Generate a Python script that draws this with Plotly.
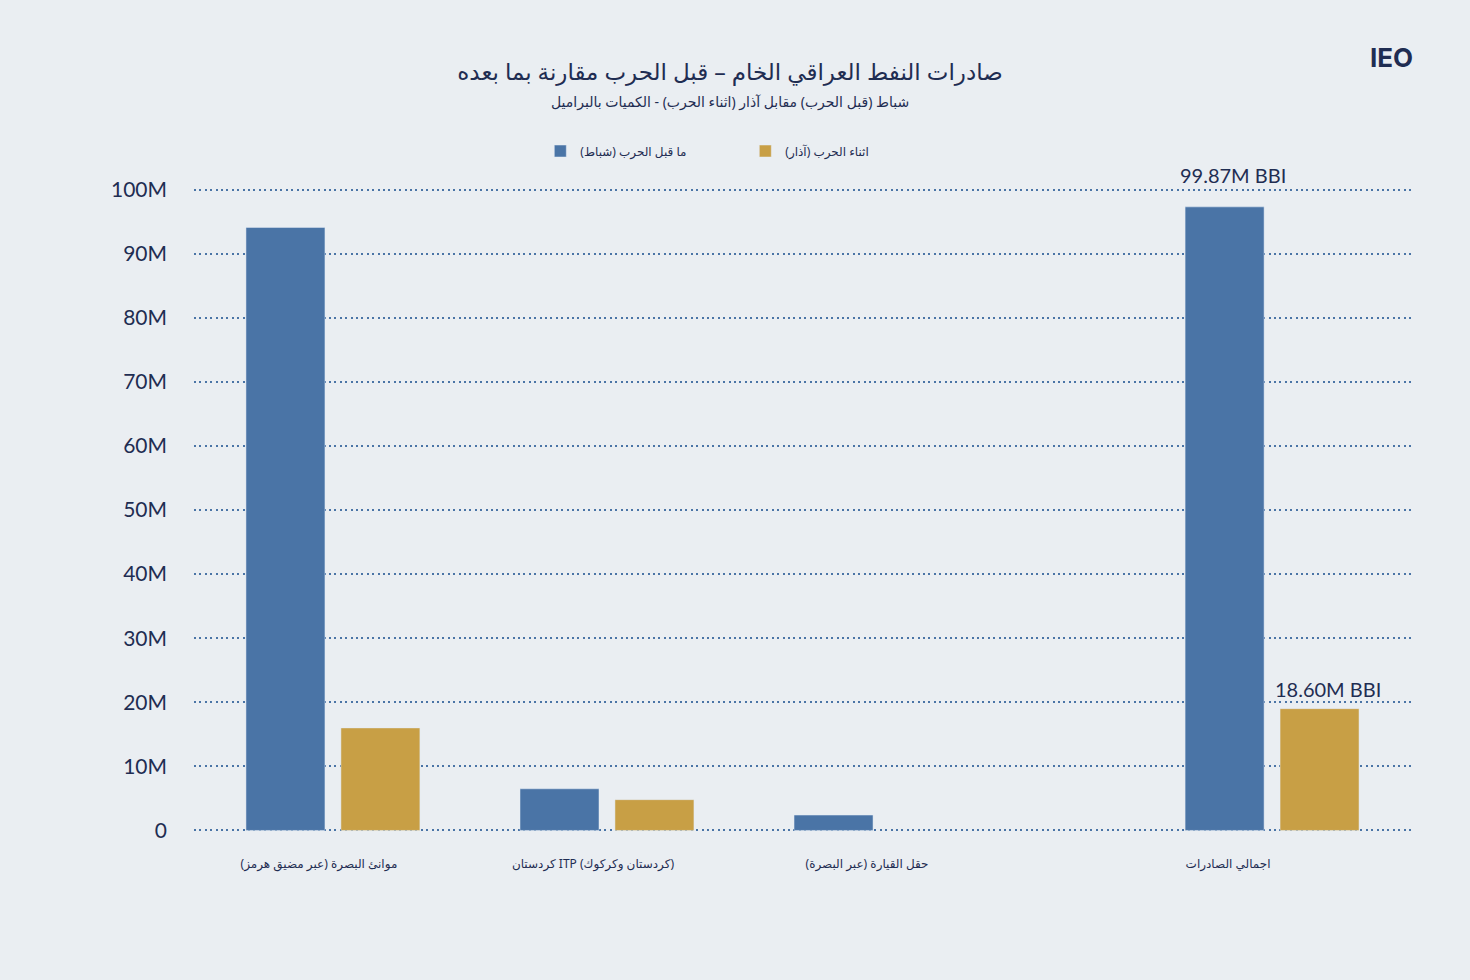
import plotly.graph_objects as go

# Iraqi crude exports, barrels
categories = ["موانئ البصرة (عبر مضيق هرمز)", "كردستان ITP (كردستان وكركوك)", "حقل القيارة (عبر البصرة)"]
before_war = [94.1e6, 6.5e6, 2.4e6]
during_war = [16.0e6, 4.8e6, None]

total_category = ["اجمالي الصادرات"]
total_before = [97.3e6]
total_during = [19.0e6]
total_labels = ["99.87M BBI", "18.60M BBI"]
total_label_values = [99.87e6, 18.60e6]

series_names = ["ما قبل الحرب (شباط)", "اثناء الحرب (آذار)"]

blue = "#4a74a6"
gold = "#c89f45"
navy = "#1f2d52"
bg = "#eaeef2"
num_font = "Lato, Inter, sans-serif"
ar_font = "Noto Sans, DejaVu Sans, sans-serif"

fig = go.Figure()
fig.add_trace(go.Bar(x=categories, y=before_war, name=series_names[0], marker_color=blue,
                     legendgroup="a", xaxis="x", yaxis="y"))
fig.add_trace(go.Bar(x=categories, y=during_war, name=series_names[1], marker_color=gold,
                     legendgroup="b", xaxis="x", yaxis="y"))
fig.add_trace(go.Bar(x=total_category, y=total_before, name=series_names[0], marker_color=blue,
                     legendgroup="a", showlegend=False, xaxis="x2", yaxis="y"))
fig.add_trace(go.Bar(x=total_category, y=total_during, name=series_names[1], marker_color=gold,
                     legendgroup="b", showlegend=False, xaxis="x2", yaxis="y"))

# value labels over the total group
for lbl, val, xs, ys in zip(total_labels, total_label_values, [-39, 56], [1, 8]):
    fig.add_annotation(x=total_category[0], y=val, xref="x2", yref="y", text=lbl,
                       showarrow=False, yanchor="bottom", xshift=xs, yshift=ys,
                       font=dict(family=num_font, size=20, color=navy))

fig.add_annotation(x=0.984, y=1.2012, xref="paper", yref="paper", text="<b>IEO</b>",
                   showarrow=False, xanchor="center", yanchor="middle",
                   font=dict(family="Inter, sans-serif", size=26, color=navy))

fig.add_annotation(x=0.4404, y=1.1316, xref="paper", yref="paper", yanchor="middle",
                   text="شباط (قبل الحرب) مقابل آذار (اثناء الحرب) - الكميات بالبراميل",
                   showarrow=False, font=dict(family=ar_font, size=14, color=navy))

fig.update_layout(
    width=1470, height=980,
    paper_bgcolor=bg, plot_bgcolor=bg,
    margin=dict(l=194, r=59, t=187, b=147),
    barmode="group", bargap=0.307, bargroupgap=0.168,
    title=dict(
        text="صادرات النفط العراقي الخام – قبل الحرب مقارنة بما بعده",
        x=0.4966, xanchor="center", y=0.9265, yanchor="middle",
        font=dict(family=ar_font, size=23, color=navy),
    ),
    legend=dict(orientation="h", x=0.453, xanchor="center", y=1.0557, yanchor="middle",
                entrywidth=160, font=dict(family=ar_font, size=12, color=navy),
                bgcolor="rgba(0,0,0,0)"),
    font=dict(family=num_font, color=navy),
    xaxis=dict(type="category", range=[-0.507, 3.934], showgrid=False, zeroline=False,
               tickfont=dict(family=ar_font, size=12, color=navy), ticklabelstandoff=22,
               ticklabelshift=-14),
    xaxis2=dict(type="category", overlaying="x", side="bottom", anchor="y", range=[-3.934, 0.507],
                showgrid=False, zeroline=False,
                tickfont=dict(family=ar_font, size=12, color=navy), ticklabelstandoff=22,
                ticklabelshift=-44),
    yaxis=dict(range=[-0.4e6, 100.4e6], tickvals=[i * 10e6 for i in range(11)], tickformat="~s",
               zeroline=False, showgrid=True, gridcolor=blue, gridwidth=2, griddash="2px,3.4px",
               tickfont=dict(family=num_font, size=21, color=navy), ticklabelstandoff=26),
)

fig.write_html("out.html", config={"displayModeBar": False},
               post_script="document.body.style.margin='0';")
